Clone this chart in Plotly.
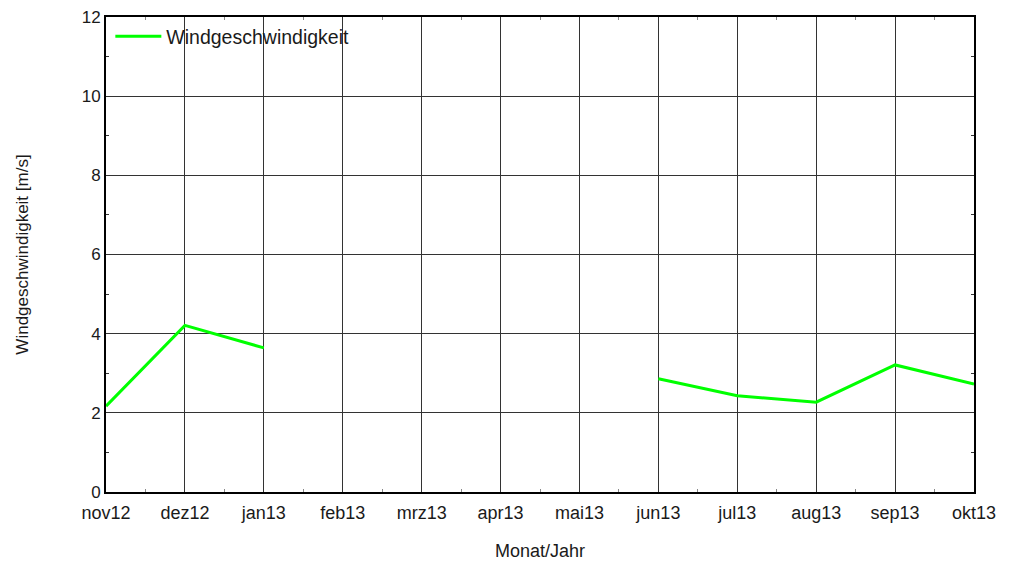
import plotly.graph_objects as go

months = ["nov12", "dez12", "jan13", "feb13", "mrz13", "apr13", "mai13",
          "jun13", "jul13", "aug13", "sep13", "okt13"]
wind = [2.17, 4.21, 3.64, None, None, None, None, 2.86, 2.43, 2.27, 3.21, 2.73]
y_ticks = [0, 2, 4, 6, 8, 10, 12]

xpos = list(range(len(months)))

fig = go.Figure()
fig.add_trace(go.Scatter(
    x=xpos, y=wind, mode="lines", name="Windgeschwindigkeit",
    line=dict(color="#00FF00", width=3), connectgaps=False,
))

fam = "Liberation Sans, Arial, sans-serif"
font = dict(family=fam, size=18, color="#1a1a1a")

fig.update_layout(
    width=1010, height=561,
    margin=dict(l=106, r=36, t=17, b=69),
    paper_bgcolor="white", plot_bgcolor="white",
    font=font,
    showlegend=True,
    legend=dict(x=0.005, y=1.0, xanchor="left", yanchor="top",
                bgcolor="rgba(0,0,0,0)", font=dict(family=fam, size=19.5, color="#1a1a1a"),
                itemwidth=46, tracegroupgap=0),
    xaxis=dict(
        range=[0, 11], tickmode="array", tickvals=xpos, ticktext=months,
        showgrid=True, gridcolor="#333", gridwidth=1,
        showline=True, linecolor="black", linewidth=2, mirror="ticks",
        ticks="inside", ticklen=4, tickcolor="#333",
        minor=dict(tick0=0, dtick=0.5, ticks="inside", ticklen=3, tickcolor="#888", showgrid=False),
        zeroline=False, automargin=False,
        ticklabelstandoff=3,
        title=dict(text="Monat/Jahr", font=dict(family=fam, size=18), standoff=24),
        tickfont=dict(family=fam, size=18),
    ),
    yaxis=dict(
        range=[0, 12], tickmode="array", tickvals=y_ticks,
        showgrid=True, gridcolor="#333", gridwidth=1,
        showline=True, linecolor="black", linewidth=2, mirror="ticks",
        ticks="inside", ticklen=4, tickcolor="#333",
        minor=dict(tick0=0, dtick=1, ticks="inside", ticklen=3, tickcolor="#333", showgrid=False),
        zeroline=False, automargin=False,
        title=dict(text="Windgeschwindigkeit [m/s]", font=dict(family=fam, size=17), standoff=49),
        tickfont=dict(family=fam, size=17),
    ),
)

fig.write_html("out.html", config={"displayModeBar": False},
               post_script="document.body.style.margin='0';")
